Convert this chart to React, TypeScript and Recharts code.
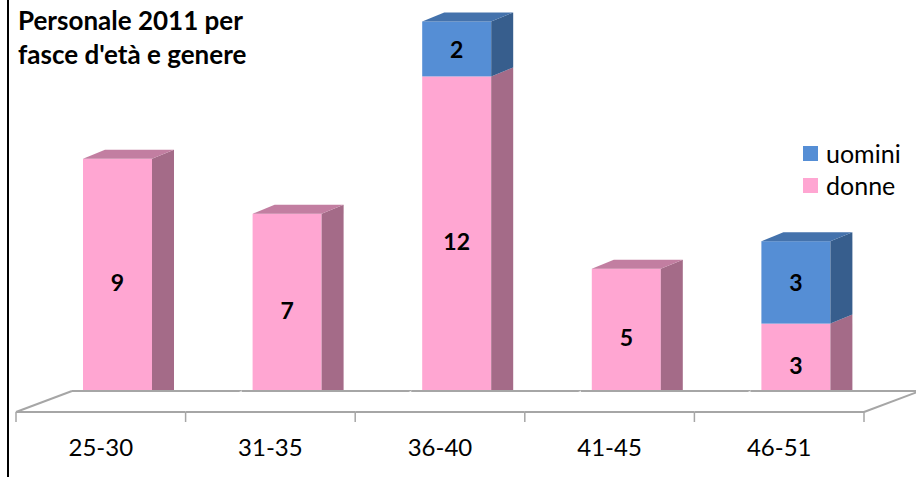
import React from 'react';
import { BarChart, Bar, XAxis, YAxis, LabelList } from 'recharts';

const categories = ['25-30', '31-35', '36-40', '41-45', '46-51'];
const donne = [9, 7, 12, 5, 3];
const uomini = [0, 0, 2, 0, 3];

const data = categories.map((fascia, i) => ({ fascia, donne: donne[i], uomini: uomini[i] }));

const W = 916;
const H = 477;
const FONT = 'Lato, "Open Sans", sans-serif';

// 3D look: floor depth and bar depth
const FLOOR_DX = 56;
const FLOOR_DY = 21;
const BAR_DX = 22;
const BAR_DY = 9;
const SHIFT_X = 17; // bars stand halfway into the floor
const SHIFT_Y = 6;

const colors = {
  donne: { front: '#ffa6d2', side: '#a46b88', top: '#c27ea1' },
  uomini: { front: '#558ed5', side: '#375e8d', top: '#4472ac' },
};

const make3DBar = (key: 'donne' | 'uomini') => (props: any) => {
  const { x, y, width, height, payload } = props;
  if (!height || height <= 0) return <g />;
  const c = colors[key];
  const fx = x + SHIFT_X;
  const fy = y - SHIFT_Y;
  const isTop = key === 'uomini' || !payload || payload.uomini === 0;
  return (
    <g>
      <rect x={fx} y={fy} width={width} height={height} fill={c.front} />
      <polygon
        points={`${fx + width},${fy} ${fx + width + BAR_DX},${fy - BAR_DY} ${fx + width + BAR_DX},${fy + height - BAR_DY} ${fx + width},${fy + height}`}
        fill={c.side}
      />
      {isTop && (
        <polygon
          points={`${fx},${fy} ${fx + BAR_DX},${fy - BAR_DY} ${fx + width + BAR_DX},${fy - BAR_DY} ${fx + width},${fy}`}
          fill={c.top}
        />
      )}
    </g>
  );
};

const ValueLabel = (props: any) => {
  const { x, y, width, height, value } = props;
  if (!value) return null;
  return (
    <text
      x={x + width / 2 + SHIFT_X}
      y={y + height / 2 - SHIFT_Y}
      textAnchor="middle"
      dominantBaseline="central"
      fontFamily={FONT}
      fontWeight="bold"
      fontSize={23}
      fill="#000"
    >
      {value}
    </text>
  );
};

const FloorTick = (props: any) => {
  const { x, y, payload, index } = props;
  const fallback = (W - 16 - 52) / categories.length / 2;
  const half = payload && payload.offset > 0 ? payload.offset : fallback;
  const l = x - half;
  const r = x + half;
  const last = index === categories.length - 1;
  const stroke = '#a6a6a6';
  return (
    <g>
      <polygon
        points={`${l},${y} ${l + FLOOR_DX},${y - FLOOR_DY} ${r + FLOOR_DX},${y - FLOOR_DY} ${r},${y}`}
        fill="#fff"
      />
      <line x1={l} y1={y} x2={r} y2={y} stroke={stroke} strokeWidth={2} />
      <line x1={l + FLOOR_DX} y1={y - FLOOR_DY} x2={r + FLOOR_DX} y2={y - FLOOR_DY} stroke={stroke} strokeWidth={2} />
      {index === 0 && <line x1={l} y1={y} x2={l + FLOOR_DX} y2={y - FLOOR_DY} stroke={stroke} strokeWidth={2} />}
      {last && <line x1={r} y1={y} x2={r + FLOOR_DX} y2={y - FLOOR_DY} stroke={stroke} strokeWidth={2} />}
      <line x1={l} y1={y} x2={l} y2={y + 10} stroke={stroke} strokeWidth={1.5} />
      {last && <line x1={r} y1={y} x2={r} y2={y + 10} stroke={stroke} strokeWidth={1.5} />}
      <text x={x} y={y + 44} textAnchor="middle" fontFamily={FONT} fontSize={24} fill="#000">
        {payload.value}
      </text>
    </g>
  );
};

const LegendBox = () => (
  <div
    style={{
      position: 'absolute',
      left: 803,
      top: 137,
      fontFamily: FONT,
      fontSize: 25,
      color: '#000',
      lineHeight: '32px',
    }}
  >
    {(['uomini', 'donne'] as const).map((k) => (
      <div key={k} style={{ display: 'flex', alignItems: 'center' }}>
        <span style={{ display: 'inline-block', width: 15, height: 15, background: colors[k].front, marginRight: 8 }} />
        {k}
      </div>
    ))}
  </div>
);

export default function App() {
  return (
    <div style={{ position: 'absolute', left: 0, top: 0, width: W, height: H, background: '#fff' }}>
      <div style={{ position: 'absolute', left: 7, top: 0, width: 2, height: H, background: '#000' }} />
      <div
        style={{
          position: 'absolute',
          left: 18,
          top: 3,
          fontFamily: FONT,
          fontWeight: 'bold',
          fontSize: 26,
          lineHeight: '34px',
          color: '#000',
          zIndex: 2,
        }}
      >
        Personale 2011 per
        <br />
        fasce d'età e genere
      </div>
      <BarChart width={W} height={H} data={data} margin={{ top: 0, right: 52, bottom: 0, left: 16 }}>
        <XAxis
          dataKey="fascia"
          axisLine={false}
          tickLine={false}
          tickSize={0}
          tickMargin={0}
          height={65}
          interval={0}
          tick={<FloorTick />}
        />
        <YAxis hide domain={[0, 15]} />
        <Bar dataKey="donne" stackId="a" barSize={69} shape={make3DBar('donne')} isAnimationActive={false}>
          <LabelList dataKey="donne" content={<ValueLabel />} />
        </Bar>
        <Bar dataKey="uomini" stackId="a" barSize={69} shape={make3DBar('uomini')} isAnimationActive={false}>
          <LabelList dataKey="uomini" content={<ValueLabel />} />
        </Bar>
      </BarChart>
      <LegendBox />
    </div>
  );
}
